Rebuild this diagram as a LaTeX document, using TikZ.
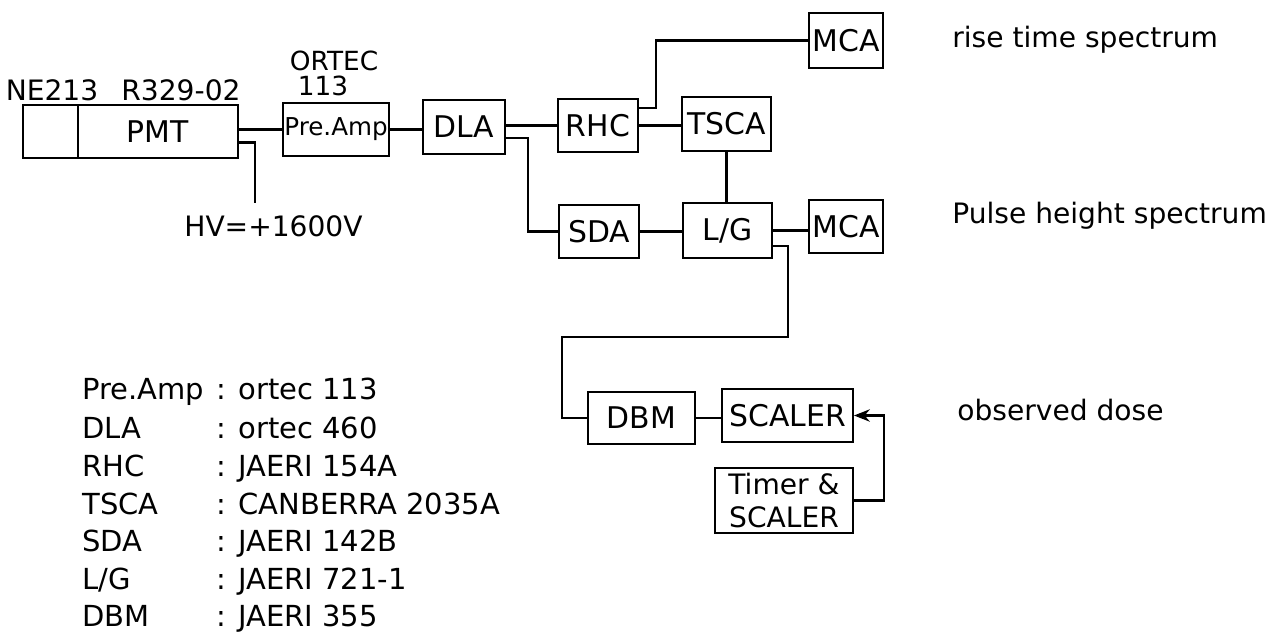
\documentclass[tikz,border=0pt]{standalone}
\usepackage{fontspec}
\setmainfont{DejaVu Sans}
\usetikzlibrary{calc,arrows.meta}
\begin{document}
\begin{tikzpicture}[x=0.02cm,y=-0.02cm,
  box/.style={draw,line width=1.1pt,inner sep=0pt,font=\fontsize{17}{20}\selectfont},
  wire/.style={line width=1.4pt},
  lbl/.style={font=\fontsize{16}{19}\selectfont,inner sep=0pt},
  leg/.style={font=\fontsize{16.5}{19}\selectfont,inner sep=0pt,anchor=base west}]
\useasboundingbox (0,0) rectangle (1284,636);
% boxes
\node[box,minimum width=1.1cm,minimum height=1.06cm] (scint) at (50.5,131.5) {};
\node[box,minimum width=3.2cm,minimum height=1.06cm] (pmt) at (158,131.5) {PMT};
\node[box,minimum width=2.12cm,minimum height=1.06cm,font=\fontsize{14}{16}\selectfont] (prea) at (336,129.5) {Pre.Amp};
\node[box,minimum width=1.64cm,minimum height=1.08cm] (dla) at (464,127) {DLA};
\node[box,minimum width=1.6cm,minimum height=1.06cm] (rhc) at (598,125.5) {RHC};
\node[box,minimum width=1.78cm,minimum height=1.08cm] (tsca) at (726.5,124) {TSCA};
\node[box,minimum width=1.6cm,minimum height=1.06cm] (sda) at (599,231.5) {SDA};
\node[box,minimum width=1.78cm,minimum height=1.1cm] (lg) at (727.5,230.5) {L/G};
\node[box,minimum width=1.48cm,minimum height=1.1cm] (mca1) at (846,40.5) {MCA};
\node[box,minimum width=1.48cm,minimum height=1.06cm] (mca2) at (846,226.5) {MCA};
\node[box,minimum width=2.14cm,minimum height=1.04cm] (dbm) at (641.5,418) {DBM};
\node[box,minimum width=2.62cm,minimum height=1.06cm] (scaler) at (787.5,415.5) {SCALER};
\node[box,minimum width=2.76cm,minimum height=1.3cm,align=center,font=\fontsize{16}{19}\selectfont] (timer) at (784,500.5) {Timer \&\\SCALER};
% labels
\node[lbl] (ne) at (52,90) {NE213};
\node[lbl] (rtube) at (181,90) {R329-02};
\node[lbl,font=\fontsize{15}{18}\selectfont,text height=11pt,text depth=0pt,anchor=base] (ortec) at (334,70) {ORTEC};
\node[lbl,font=\fontsize{15}{18}\selectfont,text height=11pt,text depth=0pt,anchor=base] (ortecn) at (323,95) {113};
\node[lbl] (hv) at (273.5,226) {HV=+1600V};
\node[lbl,anchor=base west] (rts) at (952,47) {rise time spectrum};
\node[lbl,anchor=base west] (phs) at (952,223) {Pulse height spectrum};
\node[lbl,anchor=base west] (obs) at (957,420) {observed dose};
\coordinate (hvend) at (255,203);
\coordinate (bend) at (562,337);
% connectors
\draw[wire] (pmt.east |- prea.west) -- (prea.west);
\draw[wire] ($(pmt.south east)!0.3!(pmt.north east)$) -| (hvend);
\draw[wire] (prea.east) -- (dla.west |- prea.east);
\draw[wire] (dla.east |- rhc.west) -- (rhc.west);
\draw[wire] ([yshift=-0.22cm]dla.east) -- ++(22,0) |- (sda.west);
\draw[wire] ([yshift=0.35cm]rhc.east) -- ++(17,0) |- (mca1.west);
\draw[wire] (rhc.east) -- (tsca.west |- rhc.east);
\draw[wire] (tsca.south) -- (tsca.south |- lg.north);
\draw[wire] (sda.east) -- (lg.west |- sda.east);
\draw[wire] (lg.east) -- (mca2.west |- lg.east);
\draw[wire] ([yshift=-0.31cm]lg.east) -- ++(15,0) |- (bend) |- (dbm.west);
\draw[wire] (dbm.east) -- (scaler.west |- dbm.east);
\draw[wire,-{Stealth[length=9pt,width=7pt]}] (timer.east) -- ++(30,0) |- (scaler.east);
% legend
\node[leg] (k1) at (82,399) {Pre.Amp};
\node[leg] (k2) at (82,438) {DLA};
\node[leg] (k3) at (82,476) {RHC};
\node[leg] (k4) at (82,514) {TSCA};
\node[leg] (k5) at (82,551) {SDA};
\node[leg] (k6) at (82,589) {L/G};
\node[leg] (k7) at (82,626) {DBM};
\node[leg] (v1) at (216,399) {: ortec 113};
\node[leg] (v2) at (216,438) {: ortec 460};
\node[leg] (v3) at (216,476) {: JAERI 154A};
\node[leg] (v4) at (216,514) {: CANBERRA 2035A};
\node[leg] (v5) at (216,551) {: JAERI 142B};
\node[leg] (v6) at (216,589) {: JAERI 721-1};
\node[leg] (v7) at (216,626) {: JAERI 355};
\end{tikzpicture}
\end{document}
